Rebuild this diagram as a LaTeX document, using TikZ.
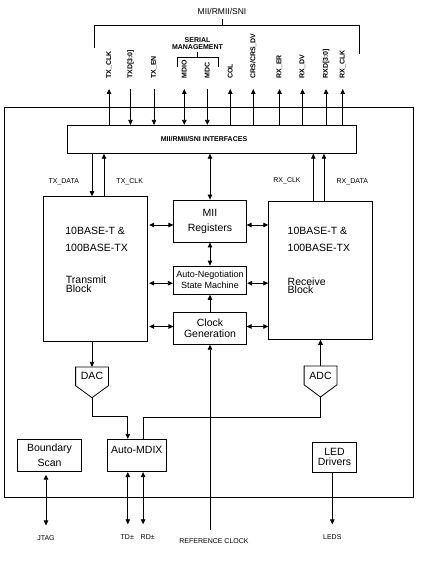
\documentclass[tikz,border=0pt]{standalone}
\usepackage{fontspec}
\setmainfont{Liberation Sans}
\usetikzlibrary{arrows.meta}

\tikzset{
  blk/.style={draw, inner sep=0pt, align=center, font=\fontsize{10.5}{13}\selectfont},
  conv/.style={inner sep=0pt, minimum width=32pt, minimum height=18pt, font=\fontsize{10.5}{13}\selectfont},
  txt/.style={inner sep=0pt, anchor=west, font=\fontsize{10.5}{13}\selectfont},
  sig/.style={rotate=90, anchor=west, inner sep=0pt, font=\bfseries\fontsize{7}{8}\selectfont},
  lbl/.style={inner sep=0pt, font=\fontsize{7}{8}\selectfont}
}

\begin{document}
\begin{tikzpicture}[x=1pt, y=-1pt, line width=0.8pt, >={Triangle[length=5pt,width=4.5pt]}]
\useasboundingbox (0,0) rectangle (421,561);

% chip outline
\draw (4,107) rectangle (413.5,497);

% bus bracket
\node[lbl, font=\fontsize{8.5}{10}\selectfont] (bus) at (222,11) {MII/RMII/SNI};
\draw (94,48) -- (94,25) -- (359,25) -- (359,54);
\draw (222,19) -- (222,25);

\node[lbl, align=center, font=\bfseries\fontsize{7}{7.3}\selectfont] (serial) at (197.5,43.7) {SERIAL\\MANAGEMENT};
\draw (177,67) -- (177,57) -- (218,57) -- (218,67);
\draw (197.5,52.5) -- (197.5,57);

% bus signals
\node[sig] (txclk) at (109,79) {TX\_CLK};
\node[sig] (txd) at (130.5,79) {TXD[3:0]};
\node[sig] (txen) at (154,79) {TX\_EN};
\node[sig] (mdio) at (184.3,79) {MDIO};
\node[sig] (mdc) at (207.3,79) {MDC};
\node[sig] (col) at (230.3,79) {COL};
\node[sig] (crs) at (253.3,79) {CRS/CRS\_DV};
\node[sig] (rxer) at (279.5,79) {RX\_ER};
\node[sig] (rxdv) at (302.5,79) {RX\_DV};
\node[sig] (rxd) at (326,79) {RXD[3:0]};
\node[sig] (rxclk) at (342.7,79) {RX\_CLK};

% interface block
\node[blk, minimum width=289pt, minimum height=28pt] (mii) at (212.2,139.3) {};
\node[lbl, font=\bfseries\fontsize{7}{8}\selectfont] (miilbl) at (204,139) {MII/RMII/SNI INTERFACES};

\draw[<-] ([yshift=-10pt]txclk.west) -- (txclk.west |- mii.north);
\draw[->] ([yshift=-10pt]txd.west) -- (txd.west |- mii.north);
\draw[->] ([yshift=-10pt]txen.west) -- (txen.west |- mii.north);
\draw[<->] ([yshift=-10pt]mdio.west) -- (mdio.west |- mii.north);
\draw[->] ([yshift=-10pt]mdc.west) -- (mdc.west |- mii.north);
\draw[<-] ([yshift=-10pt]col.west) -- (col.west |- mii.north);
\draw[<-] ([yshift=-10pt]crs.west) -- (crs.west |- mii.north);
\draw[<-] ([yshift=-10pt]rxer.west) -- (rxer.west |- mii.north);
\draw[<-] ([yshift=-10pt]rxdv.west) -- (rxdv.west |- mii.north);
\draw[<-] ([yshift=-10pt]rxd.west) -- (rxd.west |- mii.north);
\draw[<-] ([yshift=-10pt]rxclk.west) -- (rxclk.west |- mii.north);

% transmit side
\node[blk, minimum width=104pt, minimum height=144.3pt] (tx) at (95.3,268.8) {};
\node[txt] (txa) at (65,230.5) {10BASE-T \&};
\node[txt] (txb) at (65,248) {100BASE-TX};
\node[txt] (txc) at (65.5,280) {Transmit};
\node[txt] (txe) at (65.5,289) {Block};
\node[lbl] (txdatalbl) at (63.8,181.7) {TX\_DATA};
\node[lbl] (txclklbl) at (129.7,181.7) {TX\_CLK};
\draw[->] ([xshift=-3.3pt]tx.north |- mii.south) -- ([xshift=-3.3pt]tx.north);
\draw[<-] ([xshift=8.7pt]tx.north |- mii.south) -- ([xshift=8.7pt]tx.north);

% receive side
\node[blk, minimum width=103.6pt, minimum height=138.3pt] (rx) at (320.5,270.2) {};
\node[txt] (rxa) at (287.3,230.5) {10BASE-T \&};
\node[txt] (rxb) at (287.3,248) {100BASE-TX};
\node[txt] (rxc) at (287.3,281.7) {Receive};
\node[txt] (rxe) at (287.3,289.3) {Block};
\node[lbl] (rxclklbl) at (287,180.7) {RX\_CLK};
\node[lbl] (rxdatalbl) at (352.3,182) {RX\_DATA};
\draw[->] ([xshift=-7.2pt]rx.north) -- ([xshift=-7.2pt]rx.north |- mii.south);
\draw[->] ([xshift=3.5pt]rx.north) -- ([xshift=3.5pt]rx.north |- mii.south);

% middle column
\node[blk, minimum width=72.4pt, minimum height=42pt, font=\fontsize{10.5}{15}\selectfont] (regs) at (210,221) {MII\\Registers};
\node[blk, minimum width=73.4pt, minimum height=28.3pt, font=\fontsize{9}{11}\selectfont] (autoneg) at (210,280.2) {Auto-Negotiation\\State Machine};
\node[blk, minimum width=72.4pt, minimum height=31.6pt, font=\fontsize{10.5}{11}\selectfont] (clk) at (210,328.5) {Clock\\Generation};
\draw[<->] (regs.north |- mii.south) -- (regs.north);
\draw[<->] (regs.south) -- (autoneg.north);
\draw[->] (clk.north) -- (autoneg.south);

\draw[<->, shorten <=1.5pt] ([yshift=-4pt]regs.west -| tx.east) -- ([yshift=-4pt]regs.west);
\draw[<->] ([yshift=-4pt]regs.east) -- ([yshift=-4pt]regs.east -| rx.west);
\draw[<->, shorten <=1.5pt] ([yshift=-3pt]autoneg.west -| tx.east) -- ([yshift=-3pt]autoneg.west);
\draw[<->] ([yshift=-3pt]autoneg.east) -- ([yshift=-3pt]autoneg.east -| rx.west);
\draw[<->, shorten <=1.5pt] ([yshift=2pt]clk.west -| tx.east) -- ([yshift=2pt]clk.west);
\draw[<->] ([yshift=2pt]clk.east) -- ([yshift=2pt]clk.east -| rx.west);

% converters
\node[conv] (dac) at (92,376.3) {DAC};
\coordinate (dactip) at (92,397.7);
\draw (dac.north west) -- (dac.north east) -- (dac.south east) -- (dactip) -- (dac.south west) -- cycle;
\node[conv] (adc) at (320.5,375.4) {ADC};
\coordinate (adctip) at (320.5,397);
\draw (adc.north west) -- (adc.north east) -- (adc.south east) -- (adctip) -- (adc.south west) -- cycle;
\draw[->] (dac.north |- tx.south) -- (dac.north);
\draw[->] (adc.north) -- (adc.north |- rx.south);

% line interface
\node[blk, minimum width=59pt, minimum height=32.4pt] (mdix) at (136.8,455.5) {};
\node[lbl, font=\fontsize{10.5}{13}\selectfont] (mdixlbl) at (136.8,450) {Auto-MDIX};
\draw[->] (dactip) -- ++(0,19) -| ([xshift=-9pt]mdix.north);
\draw (adctip) -- ++(0,20) -| ([xshift=6.3pt]mdix.north);

\node[lbl] (td) at (127.3,537.3) {TD±};
\node[lbl] (rd) at (147.7,537.3) {RD±};
\draw[<->] ([xshift=-9pt]mdix.south) -- ([xshift=-9pt]mdix.south |- 0,524.3);
\draw[<->] ([xshift=6.3pt]mdix.south) -- ([xshift=6.3pt]mdix.south |- 0,524.3);

% reference clock
\node[lbl] (reflbl) at (214,541) {REFERENCE CLOCK};
\coordinate (refin) at (210,530);
\draw[->] (refin) -- (refin |- clk.south);

% boundary scan
\node[blk, minimum width=64.4pt, minimum height=32.4pt, font=\fontsize{10.5}{14.7}\selectfont] (bscan) at (49.5,455.5) {Boundary\\Scan};
\node[lbl] (jtag) at (46,538.3) {JTAG};
\draw[<->] ([yshift=-2.6pt]bscan.south -| jtag.north) -- ([yshift=10pt]jtag.north);

% LED drivers
\node[blk, minimum width=44.4pt, minimum height=30pt, font=\fontsize{10.5}{10}\selectfont] (led) at (334.5,457.3) {LED\\Drivers};
\node[lbl] (leds) at (332.3,537.3) {LEDS};
\draw[->] (leds.north |- led.south) -- ([yshift=10pt]leds.north);
\end{tikzpicture}
\end{document}
